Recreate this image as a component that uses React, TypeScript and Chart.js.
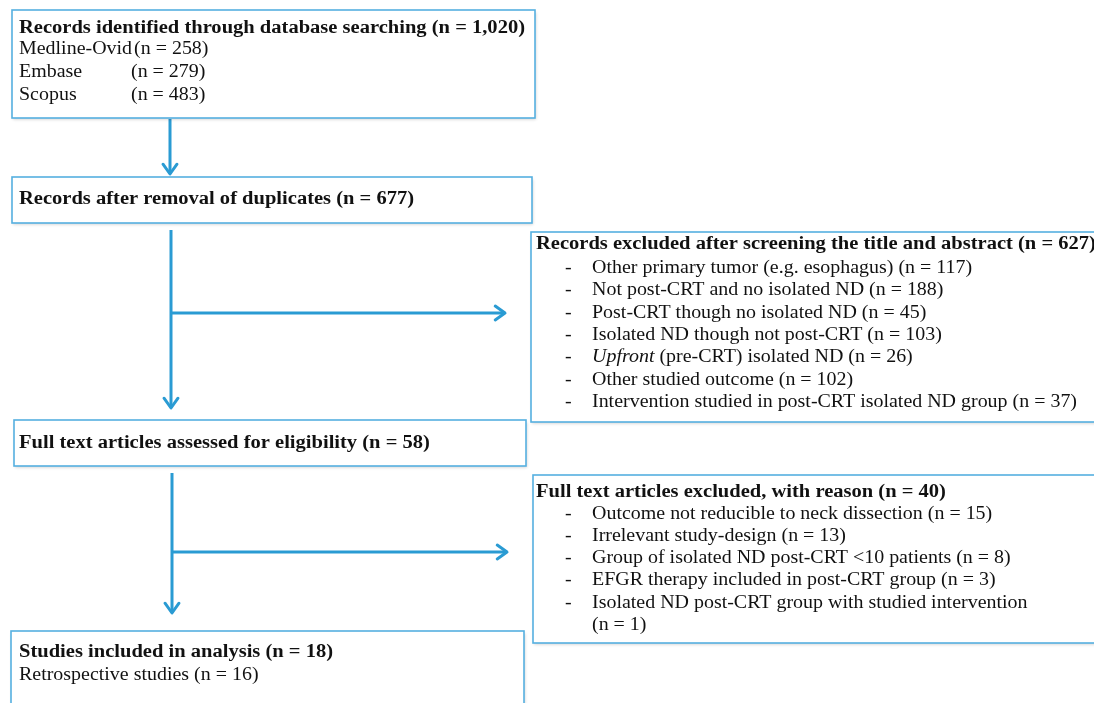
import React, { useEffect, useRef } from "react";
import { Chart, registerables } from "chart.js";
Chart.register(...registerables);

// ---- data ----
const sourceNames = ["Medline-Ovid", "Embase", "Scopus"];
const sourceCounts = [258, 279, 483];
const totalIdentified = "1,020";
const afterDuplicates = 677;
const excludedScreening = 627;
const screeningReasons = [
  "Other primary tumor (e.g. esophagus)",
  "Not post-CRT and no isolated ND",
  "Post-CRT though no isolated ND",
  "Isolated ND though not post-CRT",
  "*Upfront* (pre-CRT) isolated ND",
  "Other studied outcome",
  "Intervention studied in post-CRT isolated ND group",
];
const screeningCounts = [117, 188, 45, 103, 26, 102, 37];
const assessedCount = 58;
const excludedFull = 40;
const fullReasons = [
  "Outcome not reducible to neck dissection",
  "Irrelevant study-design",
  "Group of isolated ND post-CRT <10 patients",
  "EFGR therapy included in post-CRT group",
  "Isolated ND post-CRT group with studied intervention",
];
const fullCounts = [15, 13, 8, 3, 1];
const includedCount = 18;
const retrospectiveCount = 16;

// ---- layout (data coordinates on a 1094 x 703 plane) ----
const W = 1094;
const H = 703;
const FONT = '"Liberation Serif", "DejaVu Serif", serif';
const BOX_COLOR = "#55b0e0";
const ARROW_COLOR = "#2a9bd3";
const TEXT_SIZE = 18;

type Seg = { t: string; bold?: boolean; italic?: boolean; x?: number };
type Line = { y: number; x: number; segs: Seg[] };
type Box = { x0: number; y0: number; x1: number; y1: number; lines: Line[] };

function parseItalic(s: string): Seg[] {
  const parts = s.split("*");
  return parts.filter((p) => p.length).map((p, i) => ({ t: p, italic: s.startsWith("*") ? i % 2 === 0 : i % 2 === 1 }));
}

function buildBoxes(): Box[] {
  const boxes: Box[] = [];
  const b1: Line[] = [
    { y: 28, x: 19, segs: [{ t: `Records identified through database searching (n = ${totalIdentified})`, bold: true }] },
  ];
  sourceNames.forEach((n, i) => {
    b1.push({ y: 49 + i * 23, x: 19, segs: [{ t: n }, { t: `(n = ${sourceCounts[i]})`, x: 131 }] });
  });
  boxes.push({ x0: 12, y0: 10, x1: 535, y1: 118, lines: b1 });
  boxes.push({
    x0: 12, y0: 177, x1: 532, y1: 223,
    lines: [{ y: 199, x: 19, segs: [{ t: `Records after removal of duplicates (n = ${afterDuplicates})`, bold: true }] }],
  });
  const b3: Line[] = [
    { y: 244, x: 536, segs: [{ t: `Records excluded after screening the title and abstract (n = ${excludedScreening})`, bold: true }] },
  ];
  screeningReasons.forEach((r, i) => {
    b3.push({ y: 268 + i * 22.4, x: 565, segs: [{ t: "-" }, ...parseItalic(r).map((s, k) => (k === 0 ? { ...s, x: 592 } : s)), { t: ` (n = ${screeningCounts[i]})` }] });
  });
  boxes.push({ x0: 531, y0: 232, x1: 1110, y1: 422, lines: b3 });
  boxes.push({
    x0: 14, y0: 420, x1: 526, y1: 466,
    lines: [{ y: 443, x: 19, segs: [{ t: `Full text articles assessed for eligibility (n = ${assessedCount})`, bold: true }] }],
  });
  const b5: Line[] = [
    { y: 492, x: 536, segs: [{ t: `Full text articles excluded, with reason (n = ${excludedFull})`, bold: true }] },
  ];
  fullReasons.forEach((r, i) => {
    if (i === fullReasons.length - 1) {
      b5.push({ y: 514 + i * 22.2, x: 565, segs: [{ t: "-" }, { t: r, x: 592 }] });
      b5.push({ y: 514 + (i + 1) * 22.2, x: 592, segs: [{ t: `(n = ${fullCounts[i]})` }] });
    } else {
      b5.push({ y: 514 + i * 22.2, x: 565, segs: [{ t: "-" }, { t: `${r} (n = ${fullCounts[i]})`, x: 592 }] });
    }
  });
  boxes.push({ x0: 533, y0: 475, x1: 1110, y1: 643, lines: b5 });
  boxes.push({
    x0: 11, y0: 631, x1: 524, y1: 720,
    lines: [
      { y: 652, x: 19, segs: [{ t: `Studies included in analysis (n = ${includedCount})`, bold: true }] },
      { y: 675, x: 19, segs: [{ t: `Retrospective studies (n = ${retrospectiveCount})` }] },
    ],
  });
  return boxes;
}

const arrows = [
  [170, 119, 170, 174],
  [171, 230, 171, 408],
  [171, 313, 505, 313],
  [172, 473, 172, 613],
  [172, 552, 507, 552],
];

// reference widths used to stretch the substitute serif to the original typeface's width
const BOLD_REF = "Records identified through database searching (n = 1,020)";
const BOLD_REF_W = 506;
const REG_REF = "Intervention studied in post-CRT isolated ND group (n = 37)";
const REG_REF_W = 485;

const flowPlugin = {
  id: "flow",
  afterDatasetsDraw(chart: any) {
    const ctx: CanvasRenderingContext2D = chart.ctx;
    const xs = chart.scales.x;
    const ys = chart.scales.y;
    const px = (v: number) => xs.getPixelForValue(v);
    const py = (v: number) => ys.getPixelForValue(v);
    ctx.save();
    ctx.font = `bold ${TEXT_SIZE}px ${FONT}`;
    const boldSX = BOLD_REF_W / ctx.measureText(BOLD_REF).width;
    ctx.font = `${TEXT_SIZE}px ${FONT}`;
    const regSX = REG_REF_W / ctx.measureText(REG_REF).width;
    const boxes = buildBoxes();
    for (const b of boxes) {
      ctx.save();
      ctx.shadowColor = "rgba(0,0,0,0.18)";
      ctx.shadowBlur = 3;
      ctx.shadowOffsetX = 1;
      ctx.shadowOffsetY = 1.5;
      ctx.fillStyle = "#ffffff";
      ctx.fillRect(px(b.x0), py(b.y0), px(b.x1) - px(b.x0), py(b.y1) - py(b.y0));
      ctx.restore();
      ctx.strokeStyle = BOX_COLOR;
      ctx.lineWidth = 1.6;
      ctx.strokeRect(px(b.x0), py(b.y0), px(b.x1) - px(b.x0), py(b.y1) - py(b.y0));
      ctx.fillStyle = "#111111";
      ctx.textBaseline = "middle";
      ctx.textAlign = "left";
      for (const ln of b.lines) {
        let cx = px(ln.x);
        let first = true;
        for (const s of ln.segs) {
          if (s.x !== undefined) cx = first ? px(s.x) : Math.max(px(s.x), cx + 2);
          first = false;
          const sx = s.bold ? boldSX : regSX;
          ctx.font = `${s.italic ? "italic " : ""}${s.bold ? "bold " : ""}${TEXT_SIZE}px ${FONT}`;
          ctx.save();
          ctx.translate(cx, py(ln.y));
          ctx.scale(sx, 1);
          ctx.fillText(s.t, 0, 0);
          ctx.restore();
          cx += ctx.measureText(s.t).width * sx;
        }
      }
    }
    ctx.strokeStyle = ARROW_COLOR;
    ctx.lineWidth = 3;
    ctx.lineCap = "round";
    ctx.lineJoin = "round";
    for (const a of arrows) {
      const x1 = px(a[2]);
      const y1 = py(a[3]);
      const ang = Math.atan2(py(a[3]) - py(a[1]), px(a[2]) - px(a[0]));
      const L = 12;
      const sp = 0.62;
      ctx.beginPath();
      ctx.moveTo(x1 - L * Math.cos(ang - sp), y1 - L * Math.sin(ang - sp));
      ctx.lineTo(x1, y1);
      ctx.lineTo(x1 - L * Math.cos(ang + sp), y1 - L * Math.sin(ang + sp));
      ctx.stroke();
    }
    ctx.restore();
  },
};

export default function App() {
  const ref = useRef<HTMLCanvasElement>(null);
  useEffect(() => {
    document.body.style.margin = "0";
    const chart = new Chart(ref.current!, {
      type: "scatter",
      data: {
        datasets: arrows.map((a) => ({
          data: [
            { x: a[0], y: a[1] },
            { x: a[2], y: a[3] },
          ],
          showLine: true,
          borderColor: ARROW_COLOR,
          borderWidth: 3,
          pointRadius: 0,
          fill: false,
        })),
      },
      options: {
        animation: false,
        responsive: false,
        maintainAspectRatio: false,
        layout: { padding: 0 },
        plugins: { legend: { display: false }, tooltip: { enabled: false } },
        scales: {
          x: { type: "linear", min: 0, max: W, display: false },
          y: { type: "linear", min: 0, max: H, reverse: true, display: false },
        },
      },
      plugins: [flowPlugin],
    });
    return () => chart.destroy();
  }, []);
  return (
    <div style={{ width: W, height: H, background: "#fff" }}>
      <canvas ref={ref} width={W} height={H} style={{ display: "block" }} />
    </div>
  );
}
